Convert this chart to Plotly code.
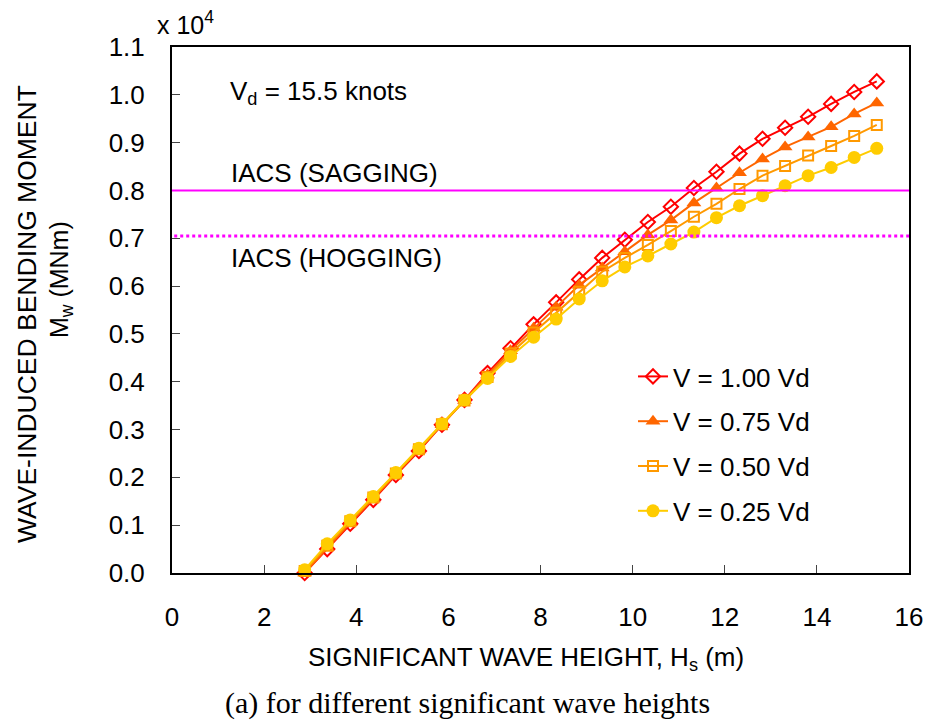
import plotly.graph_objects as go

# Significant wave height Hs (m)
hs = [2.88, 3.37, 3.87, 4.37, 4.86, 5.36, 5.86, 6.35, 6.85, 7.35, 7.85, 8.34, 8.84,
      9.34, 9.83, 10.33, 10.83, 11.33, 11.82, 12.32, 12.82, 13.31, 13.81, 14.31, 14.81, 15.30]

# Wave-induced bending moment (x 10^4 MNm)
m_100 = [0.000, 0.050, 0.103, 0.153, 0.205, 0.255, 0.310, 0.362, 0.418, 0.470, 0.520, 0.566, 0.614,
         0.659, 0.697, 0.734, 0.766, 0.805, 0.839, 0.877, 0.908, 0.931, 0.954, 0.981, 1.006, 1.028]
m_075 = [0.000, 0.053, 0.105, 0.155, 0.207, 0.257, 0.310, 0.361, 0.414, 0.465, 0.512, 0.556, 0.602,
         0.638, 0.672, 0.707, 0.738, 0.774, 0.805, 0.837, 0.866, 0.891, 0.912, 0.933, 0.960, 0.983]
m_050 = [0.004, 0.057, 0.108, 0.158, 0.208, 0.259, 0.311, 0.361, 0.410, 0.459, 0.503, 0.544, 0.588,
         0.630, 0.659, 0.686, 0.715, 0.745, 0.772, 0.803, 0.831, 0.851, 0.873, 0.893, 0.914, 0.937]
m_025 = [0.007, 0.061, 0.111, 0.160, 0.210, 0.261, 0.312, 0.362, 0.407, 0.453, 0.493, 0.531, 0.573,
         0.611, 0.640, 0.663, 0.688, 0.713, 0.743, 0.768, 0.789, 0.810, 0.831, 0.848, 0.869, 0.888]

series_names = ["V = 1.00 Vd", "V = 0.75 Vd", "V = 0.50 Vd", "V = 0.25 Vd"]
iacs_sagging = 0.800
iacs_hogging = 0.705

x_ticks = [0, 2, 4, 6, 8, 10, 12, 14, 16]
y_ticks = [0.0, 0.1, 0.2, 0.3, 0.4, 0.5, 0.6, 0.7, 0.8, 0.9, 1.0, 1.1]

FONT = "Liberation Sans, Arial, sans-serif"
FS = 26
styles = [
    dict(color="#FF0000", symbol="diamond-open", size=11, lw=2),
    dict(color="#FF6600", symbol="triangle-up", size=13, lw=0),
    dict(color="#FF9900", symbol="square-open", size=10, lw=2),
    dict(color="#FFCC00", symbol="circle", size=13, lw=0),
]

fig = go.Figure()
for i, (name, ys, st) in enumerate(zip(series_names, [m_100, m_075, m_050, m_025], styles)):
    fig.add_trace(go.Scatter(
        x=hs, y=ys, name=name, mode="lines+markers", legendgroup=f"g{i}",
        line=dict(color=st["color"], width=2),
        marker=dict(symbol=st["symbol"], size=st["size"], color=st["color"],
                    line=dict(color=st["color"], width=st["lw"])),
        cliponaxis=False,
    ))

fig.add_shape(type="line", xref="paper", x0=0, x1=1, yref="y", y0=iacs_sagging, y1=iacs_sagging,
              line=dict(color="#FF00FF", width=2))
fig.add_shape(type="line", xref="paper", x0=0.003, x1=1, yref="y", y0=iacs_hogging, y1=iacs_hogging,
              line=dict(color="#FF00FF", width=3, dash="dot"))

# page body has an 8px margin; plot area in page pixels: x 172..909, y 47..573
def px(xp):
    return (xp - 172) / 737.0

def py(yp):
    return (573 - yp) / 526.0

ann = [
    dict(text="x 10<sup>4</sup>", x=px(155), y=py(23), xanchor="left", yanchor="middle", size=25),
    dict(text="V<sub>d</sub> = 15.5 knots", x=px(228), y=py(93), xanchor="left", yanchor="middle", size=FS),
    dict(text="IACS (SAGGING)", x=px(229), y=py(173), xanchor="left", yanchor="middle", size=FS),
    dict(text="IACS (HOGGING)", x=px(229), y=py(258), xanchor="left", yanchor="middle", size=FS),
    dict(text="SIGNIFICANT WAVE HEIGHT, H<sub>s</sub> (m)", x=px(526), y=py(658), xanchor="center", yanchor="middle", size=26),
]
for a in ann:
    fig.add_annotation(text=a["text"], xref="paper", yref="paper", x=a["x"], y=a["y"],
                       xanchor=a["xanchor"], yanchor=a["yanchor"], showarrow=False,
                       font=dict(family=FONT, size=a["size"], color="black"))

fig.add_annotation(text="WAVE-INDUCED BENDING MOMENT", xref="paper", yref="paper",
                   x=px(27), y=py(314), textangle=-90, showarrow=False,
                   xanchor="center", yanchor="middle", font=dict(family=FONT, size=26.5, color="black"))
fig.add_annotation(text="M<sub>w</sub> (MNm)", xref="paper", yref="paper",
                   x=px(61), y=py(280), textangle=-90, showarrow=False,
                   xanchor="center", yanchor="middle", font=dict(family=FONT, size=25, color="black"))
fig.add_annotation(text="(a) for different significant wave heights", xref="paper", yref="paper",
                   x=px(467), y=py(703), showarrow=False, xanchor="center", yanchor="middle",
                   font=dict(family="Liberation Serif, Times New Roman, serif", size=30, color="black"))

fig.update_xaxes(range=[0, 16], tickvals=x_ticks, ticktext=[str(v) for v in x_ticks],
                 ticks="inside", ticklen=8, tickwidth=1, tickcolor="#444",
                 showline=True, linecolor="black", linewidth=2, mirror=True,
                 showgrid=False, zeroline=False, ticklabelstandoff=20, automargin=False,
                 tickfont=dict(family=FONT, size=FS, color="black"))
fig.update_yaxes(range=[0, 1.1], tickvals=y_ticks, ticktext=[f"{v:.1f}" for v in y_ticks],
                 ticks="inside", ticklen=8, tickwidth=1, tickcolor="#444",
                 showline=True, linecolor="black", linewidth=2, mirror=True,
                 showgrid=False, zeroline=False, ticklabelstandoff=20, automargin=False,
                 tickfont=dict(family=FONT, size=FS, color="black"))

fig.update_layout(
    width=927, height=717,
    margin=dict(l=164, r=26, t=39, b=152, autoexpand=False),
    plot_bgcolor="white", paper_bgcolor="white",
    showlegend=True,
    legend=dict(x=px(633), y=py(353), xanchor="left", yanchor="top",
                bgcolor="rgba(0,0,0,0)", tracegroupgap=8,
                font=dict(family=FONT, size=FS, color="black")),
)

fig.write_html("out.html")
